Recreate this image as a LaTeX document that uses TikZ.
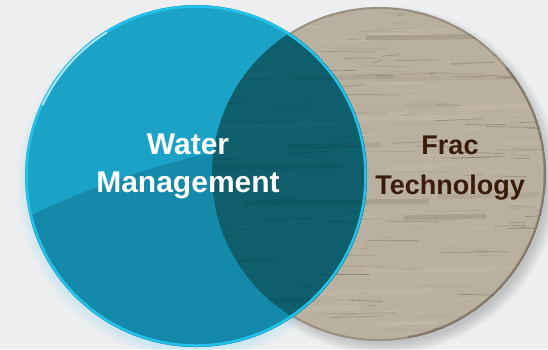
\documentclass[tikz,border=0pt]{standalone}
\usepackage{fontspec}
\setmainfont{Liberation Sans}
\usetikzlibrary{calc,positioning}

\definecolor{bgcol}{HTML}{ECEEF0}
\definecolor{woodbase}{HTML}{BAB0A0}
\definecolor{woodlight}{HTML}{DACFBC}
\definecolor{wooddark}{HTML}{5E5244}
\definecolor{bluelight}{HTML}{1BA2C7}
\definecolor{bluedark}{HTML}{1489AA}
\definecolor{bluerim}{HTML}{22C2EA}
\definecolor{overlapcol}{HTML}{0F5E6C}
\definecolor{fracbrown}{HTML}{3A1C0A}

% grain of the wooden disc: #1 dark, #2 light, #3 opacity factor
\newcommand{\woodgrain}[3]{%
    \pgfmathsetseed{4242}
    \foreach \g in {1,...,24} {
        \pgfmathsetmacro{\gy}{10+330*rnd}
        \pgfmathsetmacro{\gx}{210+260*rnd}
        \pgfmathsetmacro{\gl}{50+150*rnd}
        \pgfmathsetmacro{\go}{#3*(0.06+0.14*rnd)}
        \ifodd\g \def\gc{#1}\else \def\gc{#2}\fi
        \draw[\gc, opacity=\go, line width=5] (\gx,\gy) -- ++(\gl,-2);
    }
    \foreach \g in {1,...,300} {
        \pgfmathsetmacro{\gy}{8+334*rnd}
        \pgfmathsetmacro{\gx}{200+340*rnd}
        \pgfmathsetmacro{\gl}{8+55*rnd}
        \pgfmathsetmacro{\gt}{-2.5+4*rnd}
        \pgfmathsetmacro{\go}{#3*(0.10+0.35*rnd)}
        \ifodd\g \def\gc{#1}\else \def\gc{#2}\fi
        \draw[\gc, opacity=\go, line width=0.6] (\gx,\gy) -- ++(\gl,\gt);
    }
}

\begin{document}
\begin{tikzpicture}[x=1pt,y=-1pt,
    circtext/.style={align=center, inner sep=0pt},
    softshadow/.style={opacity=0.035}
    ]
    \def\br{171} % water disc
    \def\wr{167} % wooden disc
    \coordinate (bc) at (196,176);
    \coordinate (wc) at (379,174);

    \useasboundingbox (0,0) rectangle (548,349);
    \fill[bgcol] (0,0) rectangle (548,349);

    % soft shadows below the discs
    \foreach \s in {0,...,7} {
        \fill[black!70, softshadow] ($(wc)+(5,6)$) circle (\wr+7-\s*1.5);
        \fill[cyan!50!white, softshadow] ($(bc)+(-2,7)$) circle (\br+6-\s*1.5);
    }

    % wooden disc
    \fill[woodbase] (wc) circle (\wr);
    \begin{scope}
        \clip (wc) circle (\wr);
        \woodgrain{wooddark}{woodlight}{1}
        \draw[wooddark, opacity=0.35, line width=2] (wc) circle (\wr-1);
        \draw[wooddark, opacity=0.35, line width=3]
            (wc) ++(-40:\wr-1) arc[start angle=-40, end angle=80, radius=\wr-1];
    \end{scope}

    % water disc, lighter top and darker bottom
    \fill[bluelight] (bc) circle (\br);
    \begin{scope}
        \clip (bc) circle (\br);
        \fill[bluedark] (400,989) circle (857);
        % part lying over the wood
        \clip (wc) circle (\wr);
        \fill[overlapcol] (wc) circle (\wr);
        \woodgrain{black}{overlapcol!70!white}{0.35}
    \end{scope}
    \draw[bluerim, line width=2.5] (bc) circle (\br-1.5);
    \draw[white, opacity=0.6, line width=2, line cap=round]
        (bc) ++(205:\br-2) arc[start angle=205, end angle=238, radius=\br-2];

    \node[circtext, text=white, font=\bfseries\fontsize{30}{38}\selectfont]
        (water) at (188,166) {Water\\Management};
    \node[circtext, text=fracbrown, font=\bfseries\fontsize{27}{40}\selectfont]
        (frac) at (450,168) {Frac\\Technology};
\end{tikzpicture}
\end{document}
